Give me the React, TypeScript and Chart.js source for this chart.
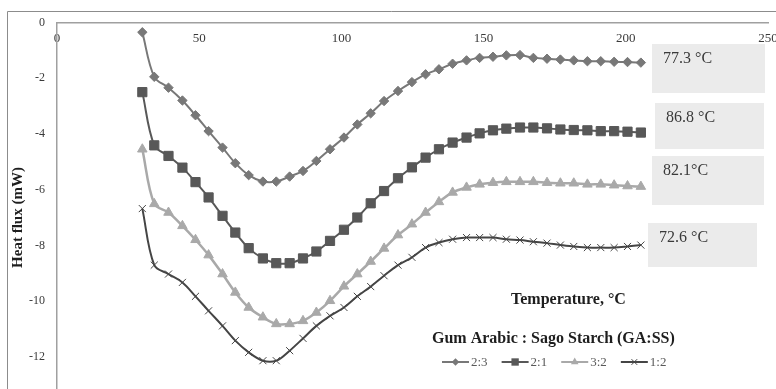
import { useEffect, useRef } from 'react';
import { Chart, registerables } from 'chart.js';

Chart.register(...registerables);

// ---------------- data ----------------
const temperature = [
  30.0, 34.2, 39.2, 44.1, 48.7, 53.3, 58.2, 62.7, 67.4, 72.4,
  77.1, 81.8, 86.5, 91.2, 96.0, 100.9, 105.6, 110.3, 115.0, 119.9,
  124.8, 129.6, 134.3, 139.1, 144.0, 148.6, 153.3, 158.0, 162.8, 167.5,
  172.3, 177.0, 181.7, 186.5, 191.2, 195.9, 200.6, 205.3,
];

const ratio23 = [
  -0.35, -1.95, -2.34, -2.8, -3.33, -3.9, -4.49, -5.05, -5.48, -5.71,
  -5.71, -5.53, -5.33, -4.97, -4.55, -4.13, -3.66, -3.26, -2.82, -2.46,
  -2.14, -1.86, -1.68, -1.48, -1.36, -1.27, -1.23, -1.18, -1.17, -1.27,
  -1.3, -1.33, -1.36, -1.39, -1.39, -1.41, -1.42, -1.44,
];

const ratio21 = [
  -2.5, -4.41, -4.79, -5.21, -5.73, -6.28, -6.94, -7.54, -8.1, -8.47,
  -8.64, -8.64, -8.47, -8.22, -7.84, -7.44, -7.0, -6.49, -6.05, -5.59,
  -5.2, -4.85, -4.55, -4.31, -4.13, -3.98, -3.87, -3.81, -3.77, -3.77,
  -3.8, -3.84, -3.86, -3.87, -3.9, -3.9, -3.92, -3.95,
];

const ratio32 = [
  -4.55, -6.51, -6.82, -7.3, -7.8, -8.35, -9.03, -9.69, -10.23, -10.58,
  -10.82, -10.82, -10.71, -10.41, -9.99, -9.47, -9.03, -8.58, -8.11, -7.63,
  -7.24, -6.82, -6.44, -6.1, -5.92, -5.81, -5.75, -5.72, -5.72, -5.72,
  -5.75, -5.77, -5.77, -5.81, -5.81, -5.84, -5.87, -5.89,
];

const ratio12 = [
  -6.68, -8.71, -9.03, -9.33, -9.83, -10.35, -10.89, -11.42, -11.84, -12.14,
  -12.14, -11.78, -11.34, -10.89, -10.53, -10.23, -9.83, -9.48, -9.09, -8.71,
  -8.43, -8.08, -7.9, -7.78, -7.72, -7.72, -7.72, -7.78, -7.81, -7.87,
  -7.92, -7.99, -8.04, -8.08, -8.08, -8.08, -8.04, -7.99,
];

const seriesLabels = ['2:3', '2:1', '3:2', '1:2'];
const seriesValues = [ratio23, ratio21, ratio32, ratio12];
const peakLabels = ['77.3 °C', '86.8 °C', '82.1°C', '72.6 °C'];

const xMin = 0;
const xMax = 250;
const xStep = 50;
const yMin = -14;
const yMax = 0;
const yStep = 2;

const xTitle = 'Temperature, °C';
const legendTitle = 'Gum Arabic : Sago Starch (GA:SS)';
const yTitle = 'Heat flux (mW)';

// ---------------- styling / layout ----------------
const SERIF = '"Liberation Serif", "Times New Roman", serif';

const seriesStyles = [
  { color: '#787878', point: 'rectRot', radius: 4.7, width: 2, pbw: 1 },
  { color: '#585858', point: 'rect', radius: 6.5, width: 2, pbw: 1 },
  { color: '#a9a9a9', point: 'triangle', radius: 5.5, width: 2.5, pbw: 1 },
  { color: '#454545', point: 'crossRot', radius: 5, width: 2, pbw: 1 },
];

const peakBoxes = [
  { x: 652, y: 44, w: 113, h: 49 },
  { x: 655, y: 103, w: 109, h: 46 },
  { x: 652, y: 156, w: 112, h: 49 },
  { x: 648, y: 223, w: 109, h: 44 },
];

function drawMarker(
  ctx: CanvasRenderingContext2D,
  style: string,
  x: number,
  y: number,
  r: number,
  color: string,
) {
  ctx.save();
  ctx.fillStyle = color;
  ctx.strokeStyle = color;
  ctx.lineWidth = 1;
  ctx.beginPath();
  if (style === 'rectRot') {
    ctx.moveTo(x, y - r);
    ctx.lineTo(x + r, y);
    ctx.lineTo(x, y + r);
    ctx.lineTo(x - r, y);
    ctx.closePath();
    ctx.fill();
  } else if (style === 'rect') {
    const s = r * Math.SQRT1_2;
    ctx.rect(x - s, y - s, 2 * s, 2 * s);
    ctx.fill();
  } else if (style === 'triangle') {
    for (let k = 0; k < 3; k++) {
      const a = -Math.PI / 2 + (k * 2 * Math.PI) / 3;
      const px = x + Math.cos(a) * r;
      const py = y + Math.sin(a) * r;
      if (k === 0) ctx.moveTo(px, py);
      else ctx.lineTo(px, py);
    }
    ctx.closePath();
    ctx.fill();
  } else {
    const d = r * Math.SQRT1_2;
    ctx.moveTo(x - d, y - d);
    ctx.lineTo(x + d, y + d);
    ctx.moveTo(x + d, y - d);
    ctx.lineTo(x - d, y + d);
    ctx.stroke();
  }
  ctx.restore();
}

const decorPlugin = {
  id: 'decor',
  beforeDraw(chart: any) {
    const ctx: CanvasRenderingContext2D = chart.ctx;
    ctx.save();
    ctx.strokeStyle = '#8c8c8c';
    ctx.lineWidth = 1;
    ctx.beginPath();
    ctx.moveTo(7.5, chart.height);
    ctx.lineTo(7.5, 11.5);
    ctx.lineTo(chart.width, 11.5);
    ctx.stroke();
    ctx.restore();
  },
  afterDraw(chart: any) {
    const ctx: CanvasRenderingContext2D = chart.ctx;
    ctx.save();
    // peak temperature boxes
    peakBoxes.forEach((b, i) => {
      ctx.fillStyle = '#ebebeb';
      ctx.fillRect(b.x, b.y, b.w, b.h);
      ctx.fillStyle = '#3a3a3a';
      ctx.font = `16px ${SERIF}`;
      ctx.textAlign = 'left';
      ctx.textBaseline = 'middle';
      ctx.fillText(peakLabels[i], b.x + 11, b.y + 14.5);
    });

    // axis title & legend title
    ctx.fillStyle = '#1e1e1e';
    ctx.font = `bold 16px ${SERIF}`;
    ctx.textAlign = 'left';
    ctx.textBaseline = 'alphabetic';
    ctx.fillText(xTitle, 511, 303.5);
    ctx.fillText(legendTitle, 432, 342.5);

    // legend
    ctx.font = `13px ${SERIF}`;
    ctx.textBaseline = 'middle';
    let lx = 442;
    const ly = 362;
    seriesLabels.forEach((lab, i) => {
      const st = seriesStyles[i];
      ctx.strokeStyle = st.color;
      ctx.lineWidth = 2;
      ctx.beginPath();
      ctx.moveTo(lx, ly);
      ctx.lineTo(lx + 27, ly);
      ctx.stroke();
      drawMarker(ctx, st.point, lx + 13.5, ly, st.radius * 0.8, st.color);
      ctx.fillStyle = '#595959';
      ctx.fillText(lab, lx + 29, ly + 0.5);
      lx += 29 + ctx.measureText(lab).width + 14;
    });
    ctx.restore();
  },
};

export default function App() {
  const canvasRef = useRef<HTMLCanvasElement | null>(null);

  useEffect(() => {
    document.body.style.margin = '0';
    const canvas = canvasRef.current;
    if (!canvas) return;

    const datasets = seriesValues.map((vals, i) => {
      const st = seriesStyles[i];
      return {
        label: seriesLabels[i],
        data: temperature.map((t, k) => ({ x: t, y: vals[k] })),
        borderColor: st.color,
        backgroundColor: st.color,
        borderWidth: st.width,
        pointStyle: st.point,
        pointRadius: st.radius,
        pointBorderWidth: st.pbw,
        pointBorderColor: st.color,
        pointBackgroundColor: st.color,
        tension: 0.35,
        fill: false,
      };
    });

    const chart = new Chart(canvas, {
      type: 'line',
      data: { datasets } as any,
      options: {
        responsive: false,
        animation: false,
        layout: { padding: { left: 0, right: 8, top: 0, bottom: 7 } },
        plugins: {
          legend: { display: false },
          tooltip: { enabled: false },
        },
        scales: {
          x: {
            type: 'linear',
            position: 'top',
            min: xMin,
            max: xMax,
            ticks: {
              stepSize: xStep,
              mirror: true,
              padding: 8,
              maxRotation: 0,
              autoSkip: false,
              color: '#3a3a3a',
              font: { family: SERIF, size: 13 },
            },
            grid: { display: false },
            border: { display: true, color: '#a0a0a0', width: 1.5 },
            afterFit: (s: any) => {
              s.height = 22.5;
              s.paddingLeft = 0;
              s.paddingRight = 0;
            },
          },
          y: {
            type: 'linear',
            position: 'left',
            min: yMin,
            max: yMax,
            ticks: {
              stepSize: yStep,
              padding: 12,
              color: '#3a3a3a',
              font: { family: SERIF, size: 12 },
            },
            grid: { display: false, drawTicks: false },
            border: { display: true, color: '#a0a0a0', width: 1.5 },
            title: {
              display: true,
              text: yTitle,
              color: '#1e1e1e',
              font: { family: SERIF, size: 15, weight: 'bold' },
              padding: { top: 9, bottom: 0 },
            },
            afterFit: (s: any) => {
              s.width = 57;
              s.paddingTop = 0;
              s.paddingBottom = 0;
            },
          },
        },
      } as any,
      plugins: [decorPlugin],
    });

    return () => {
      chart.destroy();
    };
  }, []);

  return (
    <div
      style={{
        position: 'fixed',
        left: 0,
        top: 0,
        width: 776,
        height: 389,
        overflow: 'hidden',
        background: '#ffffff',
      }}
    >
      <canvas ref={canvasRef} width={776} height={420} style={{ display: 'block' }} />
    </div>
  );
}
